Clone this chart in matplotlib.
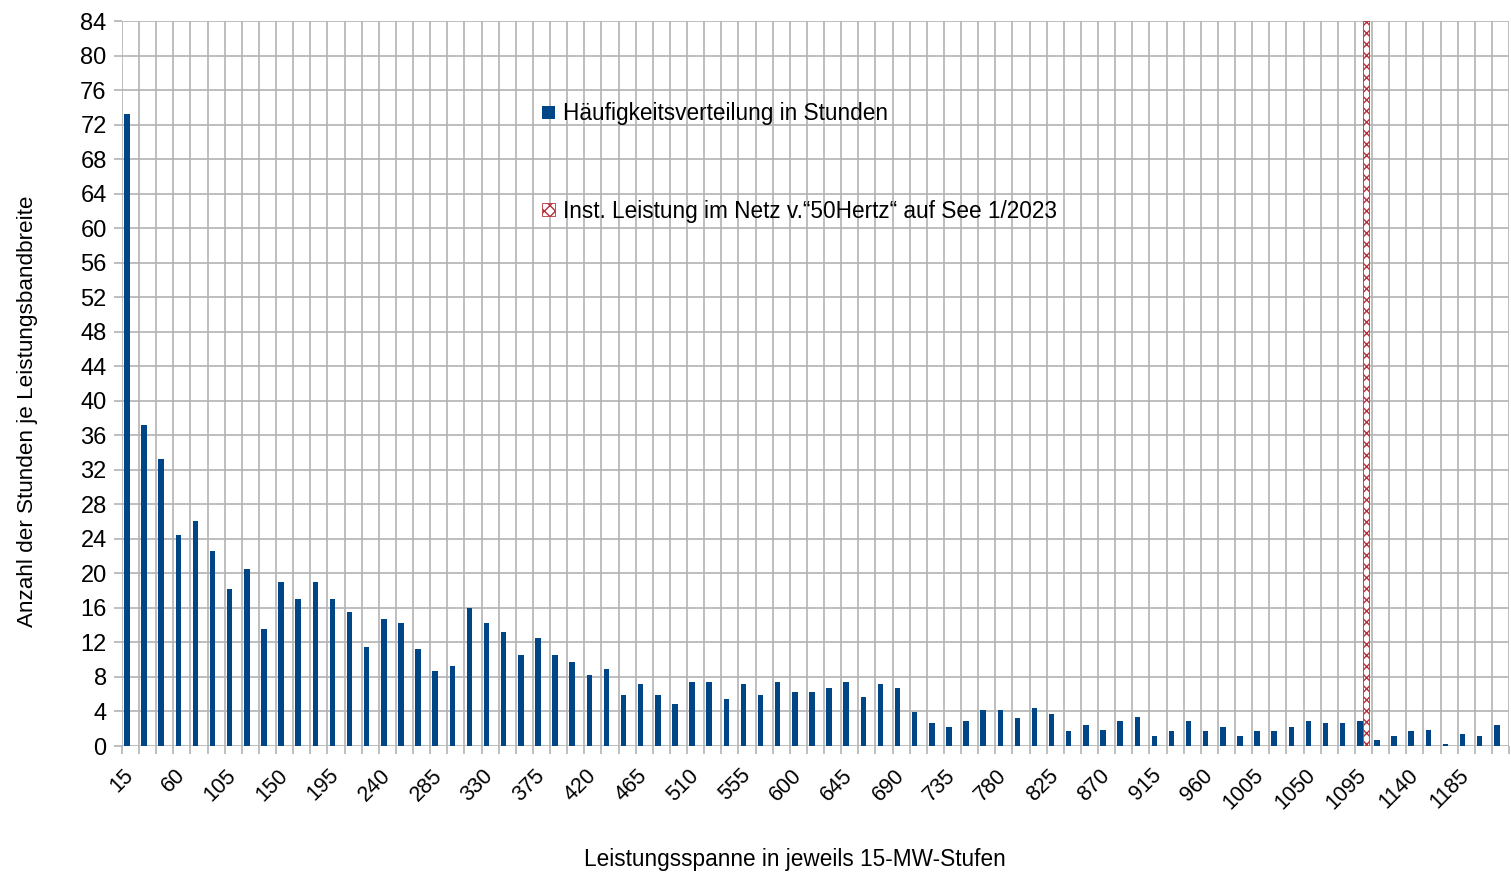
import numpy as np
import matplotlib.pyplot as plt
from matplotlib.patches import Patch

plt.rcParams['font.family'] = ['Liberation Sans', 'DejaVu Sans']

# Leistungsstufen (MW), 15-MW-Schritte
categories = list(range(15, 1216, 15))
# Häufigkeit in Stunden je Stufe
hours = [73.2, 37.2, 33.2, 24.4, 26.1, 22.6, 18.2, 20.5, 13.5, 19.0,
         17.0, 19.0, 17.0, 15.5, 11.5, 14.7, 14.2, 11.2, 8.7, 9.3,
         16.0, 14.2, 13.2, 10.5, 12.5, 10.5, 9.7, 8.2, 8.9, 5.9,
         7.2, 5.9, 4.9, 7.4, 7.4, 5.4, 7.2, 5.9, 7.4, 6.2,
         6.2, 6.7, 7.4, 5.7, 7.2, 6.7, 3.9, 2.7, 2.2, 2.9,
         4.2, 4.2, 3.2, 4.4, 3.7, 1.7, 2.4, 1.9, 2.9, 3.4,
         1.2, 1.7, 2.9, 1.7, 2.2, 1.2, 1.7, 1.7, 2.2, 2.9,
         2.7, 2.7, 2.9, 0.7, 1.2, 1.7, 1.9, 0.2, 1.4, 1.2,
         2.4]
# installierte Leistung 50Hertz auf See 1/2023
inst_category = 1095
inst_value = 84

label_blue = 'Häufigkeitsverteilung in Stunden'
label_red = 'Inst. Leistung im Netz v.“50Hertz“ auf See 1/2023'

inst = [inst_value if c == inst_category else 0 for c in categories]

W, H = 1511, 872
fig = plt.figure(figsize=(W / 100, H / 100), dpi=100)
ax = fig.add_axes([122 / W, 1 - 746 / H, (1509 - 122) / W, (746 - 21) / H])

x = np.arange(len(categories))
grid_c = '#b3b3b3'
ax.bar(x - 0.21, hours, width=0.32, color='#004586', zorder=3)
ax.bar(x + 0.16, inst, width=0.36, color='white', edgecolor='#b5303a',
       hatch='xxx', linewidth=0.6, zorder=3)

ax.set_xlim(-0.5, len(categories) - 0.5)
ax.set_ylim(0, 84)
ax.set_yticks(np.arange(0, 85, 4))
ax.set_xticks(x[::3])
ax.set_xticklabels([str(c) for c in categories[::3]], rotation=45,
                   ha='right', va='center', rotation_mode='anchor')
ax.set_xticks(np.arange(-0.5, len(categories), 1), minor=True)
ax.tick_params(axis='x', which='major', length=0, pad=19, labelsize=15.5)
ax.tick_params(axis='x', which='minor', length=6, color=grid_c, width=1.2)
ax.tick_params(axis='y', length=6, color=grid_c, width=1.2, pad=5, labelsize=17)
ax.grid(True, axis='y', color=grid_c, linewidth=1.2, zorder=0)
ax.grid(True, axis='x', which='minor', color=grid_c, linewidth=1.2, zorder=0)
for s in ax.spines.values():
    s.set_visible(False)

ax.set_ylabel('Anzahl der Stunden je Leistungsbandbreite', fontsize=16.2)
ax.yaxis.set_label_coords(-0.0606, 0.462)
ax.set_xlabel('Leistungsspanne in jeweils 15-MW-Stufen', fontsize=16.3)
ax.xaxis.set_label_coords(0.485, -0.1407)

handles = [Patch(facecolor='#004586'),
           Patch(facecolor='white', edgecolor='#b5303a', hatch='xxx', linewidth=0.6)]
ax.legend(handles, [label_blue, label_red], frameon=False, fontsize=16.3,
          loc='upper left', bbox_to_anchor=(522 / W, 1 - 82 / H),
          bbox_transform=fig.transFigure, handlelength=0.55, handleheight=0.55,
          handletextpad=0.35, labelspacing=3.28)

fig.savefig('out.png', dpi=100, facecolor='white')
